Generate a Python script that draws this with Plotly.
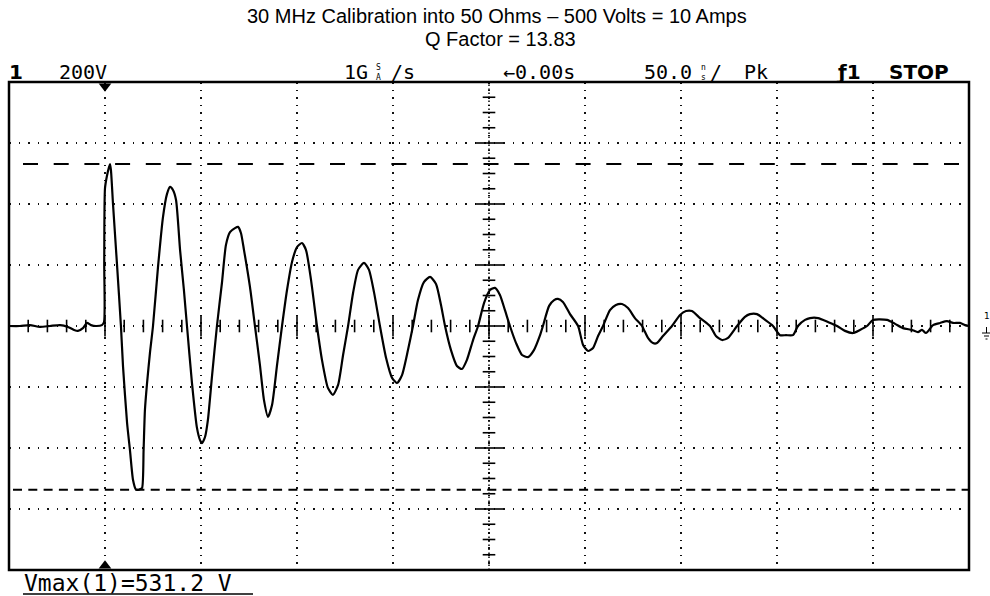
import numpy as np
import plotly.graph_objects as go

# ---------------- data ----------------
title_line1 = "30 MHz Calibration into 50 Ohms \u2013 500 Volts = 10 Amps"
title_line2 = "Q Factor = 13.83"

time_ns = [-250.0, -244.3, -239.1, -233.9, -228.6, -223.4, -219.3, -216.1, -214.1, -211.5, -209.4, -207.3, -204.7, -201.6,
           -200.5, -200.4, -200.0, -199.0, -197.9, -197.4,
           -196.9, -195.8, -193.8, -191.7, -190.6, -188.5, -187.0, -185.4, -183.9, -182.8, -181.8, -180.7, -179.9, -179.2, -178.1, -176.6, -175.0,
           -172.4, -169.8, -167.7, -166.1, -164.6, -163.0, -160.9, -158.9, -157.3,
           -154.7, -152.1, -150.5, -149.5, -147.9, -146.4, -144.3, -141.7,
           -139.1, -137.0, -134.9, -132.3, -130.7, -129.2, -127.6, -124.5, -121.9,
           -119.3, -117.2, -115.1, -113.0, -110.4, -107.8,
           -105.2, -102.6, -100.0, -97.4, -95.3, -92.7, -89.6,
           -87.0, -83.9, -81.3, -78.6, -76.0, -73.4,
           -70.8, -68.2, -65.1, -62.5, -59.9, -56.8,
           -53.6, -50.5, -47.9, -45.3, -42.2, -39.6,
           -37.0, -33.9, -30.7, -27.6, -25.0, -22.9,
           -19.8, -16.7, -14.1, -11.5, -8.3, -5.7,
           -2.6, 0.5, 3.1, 5.7, 8.3, 10.9,
           14.1, 17.2, 20.3, 23.4, 26.6, 28.1,
           31.3, 33.9, 35.9, 38.5, 42.2, 46.4,
           49.0, 51.6, 54.2, 56.8, 59.4,
           63.0, 66.1, 69.3, 72.4, 76.0, 79.7,
           82.8, 85.4, 87.5, 90.6, 95.3,
           99.5, 102.6, 105.7, 109.9, 115.1,
           118.2, 121.4, 124.5, 129.2,
           133.3, 135.9, 139.6, 143.8, 147.9,
           151.6, 154.7, 158.3, 160.9,
           164.6, 167.2, 171.4, 176.6, 181.3,
           185.4, 189.6, 193.2, 196.9,
           200.0, 207.3, 211.5, 215.6, 220.3, 223.4, 225.5, 227.6, 231.3, 234.9, 238.5, 241.7, 245.3, 247.9, 250.0]

volts = [0, 0, 3, -3, 0, 3, -3, -13, -16, -7, 10, 3, 0, 3,
         13, 207, 452, 492, 521, 531.2,
         511, 397, 207, 0, -134, -318, -407, -505, -536, -537, -535, -531, -407, -275, -187, -89, 0,
         193, 357, 433, 456, 446, 413, 249, 118, 0,
         -187, -334, -374, -384, -364, -308, -167, 0,
         141, 266, 308, 321, 325, 305, 249, 128, 0,
         -128, -243, -298, -259, -128, 0,
         118, 210, 259, 272, 249, 151, 0,
         -111, -203, -226, -193, -95, 0,
         108, 184, 207, 184, 111, 0,
         -105, -170, -187, -161, -79, 0,
         85, 144, 161, 138, 69, 0,
         -79, -131, -141, -111, -46, 0,
         75, 118, 125, 102, 52, 0,
         -56, -95, -102, -79, -30, 0,
         66, 85, 89, 79, 39, 0,
         -62, -82, -72, -33, 0,
         52, 69, 72, 59, 26, 0,
         -39, -56, -56, -33, 0,
         36, 49, 49, 26, 0,
         -33, -46, -39, 0,
         30, 39, 39, 20, 0,
         -30, -30, -30, 0,
         20, 26, 26, 13, 0,
         -16, -23, -13, 0,
         20, 20, 7, -7, -13, -20, -13, -23, 3, 10, 16, 10, 10, 3, 0]

x_range = [-250, 250]     # 50 ns/div, 10 divisions
y_range = [-800, 800]     # 200 V/div, 8 divisions
x_div = 50
y_div = 200
x_minor = 10              # 5 minor ticks per time division
y_minor = 50              # 4 minor ticks per volt division
vmax_cursor = 531.2
vmin_cursor = -537
trigger_time = -200

status_labels = ["200V", "1G", "/s", "\u21900.00s", "50.0", "/", "Pk"]
vmax_label = "Vmax(1)=531.2 V"

# ---------------- geometry helpers (pixels -> paper) ----------------
W, H = 990, 596
L, R, T, B = 9, 21, 82, 26
PW, PH = W - L - R, H - T - B


def px(xp):
    return (xp - L) / PW


def py(yp):
    return (H - B - yp) / PH


fig = go.Figure()

# main waveform
fig.add_trace(go.Scatter(x=time_ns, y=volts, mode="lines",
                         line=dict(color="black", width=2.2, shape="spline", smoothing=0.6),
                         hoverinfo="skip"))

# graticule ticks on the centre axes
xt = np.arange(x_range[0] + x_minor, x_range[1], x_minor)
xt_major = xt[np.isclose(np.mod(xt, x_div), 0)]
xt_minor = xt[~np.isclose(np.mod(xt, x_div), 0)]
yt = np.arange(y_range[0] + y_minor, y_range[1], y_minor)
yt_major = yt[np.isclose(np.mod(yt, y_div), 0)]
yt_minor = yt[~np.isclose(np.mod(yt, y_div), 0)]

tick_line = dict(width=1.6, color="black")
fig.add_trace(go.Scatter(x=xt_minor, y=np.zeros_like(xt_minor), mode="markers",
                         marker=dict(symbol="line-ns", size=9, line=tick_line), hoverinfo="skip"))
fig.add_trace(go.Scatter(x=xt_major, y=np.zeros_like(xt_major), mode="markers",
                         marker=dict(symbol="line-ns", size=15, line=tick_line), hoverinfo="skip"))
fig.add_trace(go.Scatter(x=np.zeros_like(yt_minor), y=yt_minor, mode="markers",
                         marker=dict(symbol="line-ew", size=9, line=tick_line), hoverinfo="skip"))
fig.add_trace(go.Scatter(x=np.zeros_like(yt_major), y=yt_major, mode="markers",
                         marker=dict(symbol="line-ew", size=20, line=tick_line), hoverinfo="skip"))

# trigger position markers (top and bottom) and ground reference marker
fig.add_trace(go.Scatter(x=[trigger_time], y=[y_range[1] * 0.983], mode="markers",
                         marker=dict(symbol="triangle-down", size=11, color="black"),
                         cliponaxis=False, hoverinfo="skip"))
fig.add_trace(go.Scatter(x=[trigger_time], y=[y_range[0] * 0.983], mode="markers",
                         marker=dict(symbol="triangle-up", size=11, color="black"),
                         cliponaxis=False, hoverinfo="skip"))
fig.add_trace(go.Scatter(x=[x_range[1] * 1.014], y=[0], mode="markers",
                         marker=dict(symbol="triangle-left", size=10, color="black"),
                         cliponaxis=False, hoverinfo="skip"))

shapes = []
# centre vertical dense dotted line
shapes.append(dict(type="line", xref="x", yref="y", x0=0, x1=0, y0=y_range[0], y1=y_range[1],
                   line=dict(color="black", width=1.5, dash="1.5px,2.5px")))
# cursors
shapes.append(dict(type="line", xref="paper", yref="y", x0=px(23), x1=px(966), y0=vmax_cursor, y1=vmax_cursor,
                   line=dict(color="black", width=2, dash="15px,15.7px")))
shapes.append(dict(type="line", xref="paper", yref="y", x0=px(13), x1=1, y0=vmin_cursor, y1=vmin_cursor,
                   line=dict(color="black", width=2, dash="9px,6.3px")))
# border
shapes.append(dict(type="rect", xref="paper", yref="paper", x0=0, x1=1, y0=0, y1=1,
                   line=dict(color="black", width=2.5), layer="above"))
# ground symbol beside the reference marker
for i, (a, b) in enumerate([(982, 991), (984, 989), (985.5, 987.5)]):
    yy = py(333 + 3 * i)
    shapes.append(dict(type="line", xref="paper", yref="paper", x0=px(a), x1=px(b), y0=yy, y1=yy,
                       line=dict(color="black", width=1)))
shapes.append(dict(type="line", xref="paper", yref="paper", x0=px(986.5), x1=px(986.5), y0=py(327), y1=py(333),
                   line=dict(color="black", width=1)))
# underline of the measurement readout
shapes.append(dict(type="line", xref="paper", yref="paper", x0=px(23), x1=px(253), y0=py(594), y1=py(594),
                   line=dict(color="black", width=1.5)))

annotations = []
TF = dict(family="Liberation Sans, Arial, sans-serif", size=20, color="black")
annotations.append(dict(text=title_line1, x=px(497), y=py(15.5), xref="paper", yref="paper",
                        showarrow=False, font=TF, xanchor="center", yanchor="middle"))
annotations.append(dict(text=title_line2, x=px(500), y=py(39), xref="paper", yref="paper",
                        showarrow=False, font=TF, xanchor="center", yanchor="middle"))

SF = dict(family="DejaVu Sans Mono, monospace", size=20, color="black")
SFB = dict(family="DejaVu Sans, sans-serif", size=20, color="black")
SMALL = dict(family="DejaVu Sans Mono, monospace", size=8, color="black")
yst = py(72)


def status(text, xc, font, anchor="center"):
    annotations.append(dict(text=text, x=px(xc), y=yst, xref="paper", yref="paper",
                            showarrow=False, font=font, xanchor=anchor, yanchor="middle"))


status("<b>1</b>", 15.5, SFB)
status(status_labels[0], 83, SF)
status(status_labels[1], 356, SF)
annotations.append(dict(text="S<br>A", x=px(378), y=yst, xref="paper", yref="paper",
                        showarrow=False, font=SMALL, xanchor="center", yanchor="middle"))
status(status_labels[2], 403, SF)
status(status_labels[3], 539, SF)
status(status_labels[4], 668, SF)
annotations.append(dict(text="n<br>s", x=px(703), y=yst, xref="paper", yref="paper",
                        showarrow=False, font=SMALL, xanchor="center", yanchor="middle"))
status(status_labels[5], 716, SF)
status(status_labels[6], 756, SF)
status("<b>\u01921</b>", 848.5, SFB)
status("<b>STOP</b>", 918.5, SFB)

annotations.append(dict(text="1", x=px(987), y=py(316), xref="paper", yref="paper",
                        showarrow=False, font=dict(family="DejaVu Sans", size=9, color="black"),
                        xanchor="center", yanchor="middle"))
annotations.append(dict(text=vmax_label, x=px(22), y=py(582.5), xref="paper", yref="paper",
                        showarrow=False, font=dict(family="DejaVu Sans Mono, monospace", size=23, color="black"),
                        xanchor="left", yanchor="middle"))

fig.update_layout(width=W, height=H, margin=dict(l=L, r=R, t=T, b=B),
                  paper_bgcolor="white", plot_bgcolor="white", showlegend=False,
                  shapes=shapes, annotations=annotations)
fig.update_xaxes(range=x_range, dtick=x_div, tick0=0, showgrid=True, gridcolor="#111",
                 gridwidth=1.5, griddash="1.5px,6px", zeroline=False, showticklabels=False,
                 ticks="", showline=False, fixedrange=True)
fig.update_yaxes(range=y_range, dtick=y_div, tick0=0, showgrid=True, gridcolor="#111",
                 gridwidth=1.5, griddash="1.5px,8px", zeroline=False, showticklabels=False,
                 ticks="", showline=False, fixedrange=True)

fig.write_html("out.html")
